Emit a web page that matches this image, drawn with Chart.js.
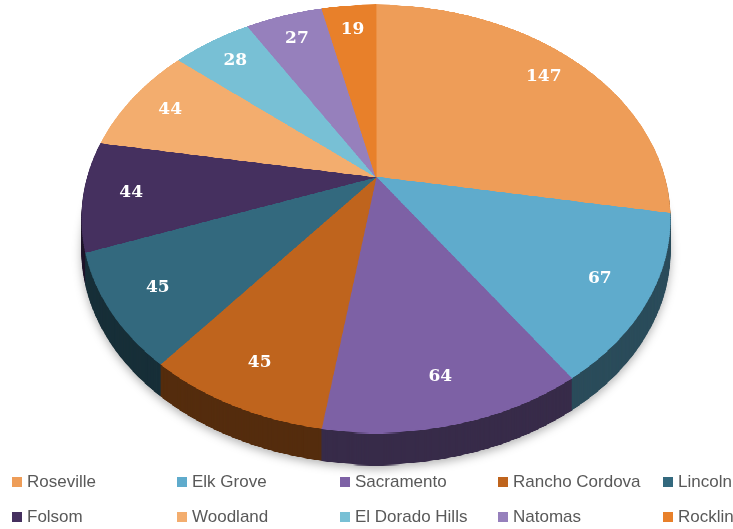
<!DOCTYPE html>
<html>
<head>
<meta charset="utf-8">
<script src="https://cdn.jsdelivr.net/npm/chart.js@4.4.0/dist/chart.umd.min.js"></script>
<style>
    html, body { margin: 0; padding: 0; background: #fff; }
    #wrap { position: relative; width: 733px; height: 529px; overflow: hidden; }
    #pie { position: absolute; left: 0; top: 0; }
    .lg { position: absolute; font-family: "Liberation Sans", Arial, sans-serif; font-size: 17px;
          color: #595959; white-space: nowrap; line-height: 20px; }
    .lg i { display: inline-block; width: 10px; height: 10px; margin-right: 5px; vertical-align: 0px; }
</style>
</head>
<body>
<div id="wrap">
    <canvas id="pie" width="733" height="529"></canvas>
</div>
<script>
// Chart data
const categories = ['Roseville', 'Elk Grove', 'Sacramento', 'Rancho Cordova', 'Lincoln',
                    'Folsom', 'Woodland', 'El Dorado Hills', 'Natomas', 'Rocklin'];
const counts = [147, 67, 64, 45, 45, 44, 44, 28, 27, 19];
const sliceColors = ['#EE9D58', '#5FABCC', '#7D61A5', '#BF641D', '#33697E',
                     '#45305F', '#F3AD6E', '#78C0D5', '#9680BC', '#E8802A'];

// how the tilted pie sits on the page
const view = { cx: 376, top: 5, mid: 177, front: 432, halfWidth: 294, depth: 32, labelAt: 0.84 };
const legendCols = [12, 177, 340, 498, 663];
const legendRows = [482, 517];

// perspective: y = (a v + b) / (c v + 1), x = cx + k u / (c v + 1)
const P = (function() {
    const b = view.mid;
    const c = (2 * b - view.top - view.front) / (view.front - view.top);
    const a = view.front + view.front * c - b;
    const k = view.halfWidth * Math.sqrt(1 - c * c);
    return { a: a, b: b, c: c, k: k };
})();

function project(u, v) {
    const w = 1 + P.c * v;
    return { x: view.cx + P.k * u / w, y: (P.a * v + P.b) / w };
}

const tiltPlugin = {
    id: 'tilt',
    beforeDatasetsDraw(chart) {
        const arcs = chart.getDatasetMeta(0).data;
        const W = chart.width, H = chart.height, S = 2;
        const R = arcs[0].outerRadius, ox = arcs[0].x, oy = arcs[0].y;

        // flat pie drawn by the chart's own arc elements
        const flat = document.createElement('canvas');
        flat.width = W * S; flat.height = H * S;
        const fctx = flat.getContext('2d');
        fctx.scale(S, S);
        arcs.forEach(a => a.draw(fctx));

        // warp it row by row into the tilted face
        const face = document.createElement('canvas');
        face.width = W; face.height = H;
        const g = face.getContext('2d');
        g.imageSmoothingQuality = 'high';
        for (let y = Math.floor(view.top) - 1; y <= Math.ceil(view.front) + 1; y++) {
            const yc = y + 0.5;
            const v = (P.b - yc) / (yc * P.c - P.a);
            if (v < -1.01 || v > 1.01) continue;
            const w = 1 + P.c * v;
            const sc = P.k / (w * R);
            let sy = Math.floor((oy + v * R) * S);
            sy = Math.max(0, Math.min(flat.height - 1, sy));
            g.drawImage(flat, 0, sy, flat.width, 1, view.cx - ox * sc, y, W * sc, 1);
        }

        // darker copy for the side wall
        const side = document.createElement('canvas');
        side.width = W; side.height = H;
        const s = side.getContext('2d');
        s.drawImage(face, 0, 0);
        s.globalCompositeOperation = 'source-atop';
        s.fillStyle = 'rgba(0,0,0,0.56)';
        s.fillRect(0, 0, W, H);

        const ctx = chart.ctx;
        ctx.save();
        ctx.shadowColor = 'rgba(0,0,0,0.3)';
        ctx.shadowBlur = 10;
        ctx.shadowOffsetY = 3;
        ctx.drawImage(side, 0, view.depth);
        ctx.restore();
        for (let d = view.depth - 1; d > 0; d--) ctx.drawImage(side, 0, d);
        ctx.drawImage(face, 0, 0);

        // value labels
        const values = chart.data.datasets[0].data;
        ctx.save();
        ctx.fillStyle = '#fff';
        ctx.font = 'bold 17px "DejaVu Serif", serif';
        ctx.textAlign = 'center';
        ctx.textBaseline = 'middle';
        arcs.forEach((a, i) => {
            const m = (a.startAngle + a.endAngle) / 2;
            const p = project(Math.cos(m) * view.labelAt, Math.sin(m) * view.labelAt);
            ctx.fillText(String(values[i]), p.x, p.y);
        });
        ctx.restore();
        return false;
    }
};

const chart = new Chart(document.getElementById('pie'), {
    type: 'pie',
    data: {
        labels: categories,
        datasets: [{
            data: counts,
            backgroundColor: sliceColors,
            borderColor: sliceColors,
            borderWidth: 1
        }]
    },
    options: {
        responsive: false,
        animation: false,
        plugins: {
            legend: { display: false },
            tooltip: { enabled: false }
        }
    },
    plugins: [tiltPlugin]
});

// legend in five columns
const wrap = document.getElementById('wrap');
chart.data.labels.forEach((name, i) => {
    const el = document.createElement('div');
    el.className = 'lg';
    el.style.left = legendCols[i % 5] + 'px';
    el.style.top = (legendRows[Math.floor(i / 5)] - 10) + 'px';
    el.innerHTML = '<i style="background:' + chart.data.datasets[0].backgroundColor[i] + '"></i>' + name;
    wrap.appendChild(el);
});
</script>
</body>
</html>
